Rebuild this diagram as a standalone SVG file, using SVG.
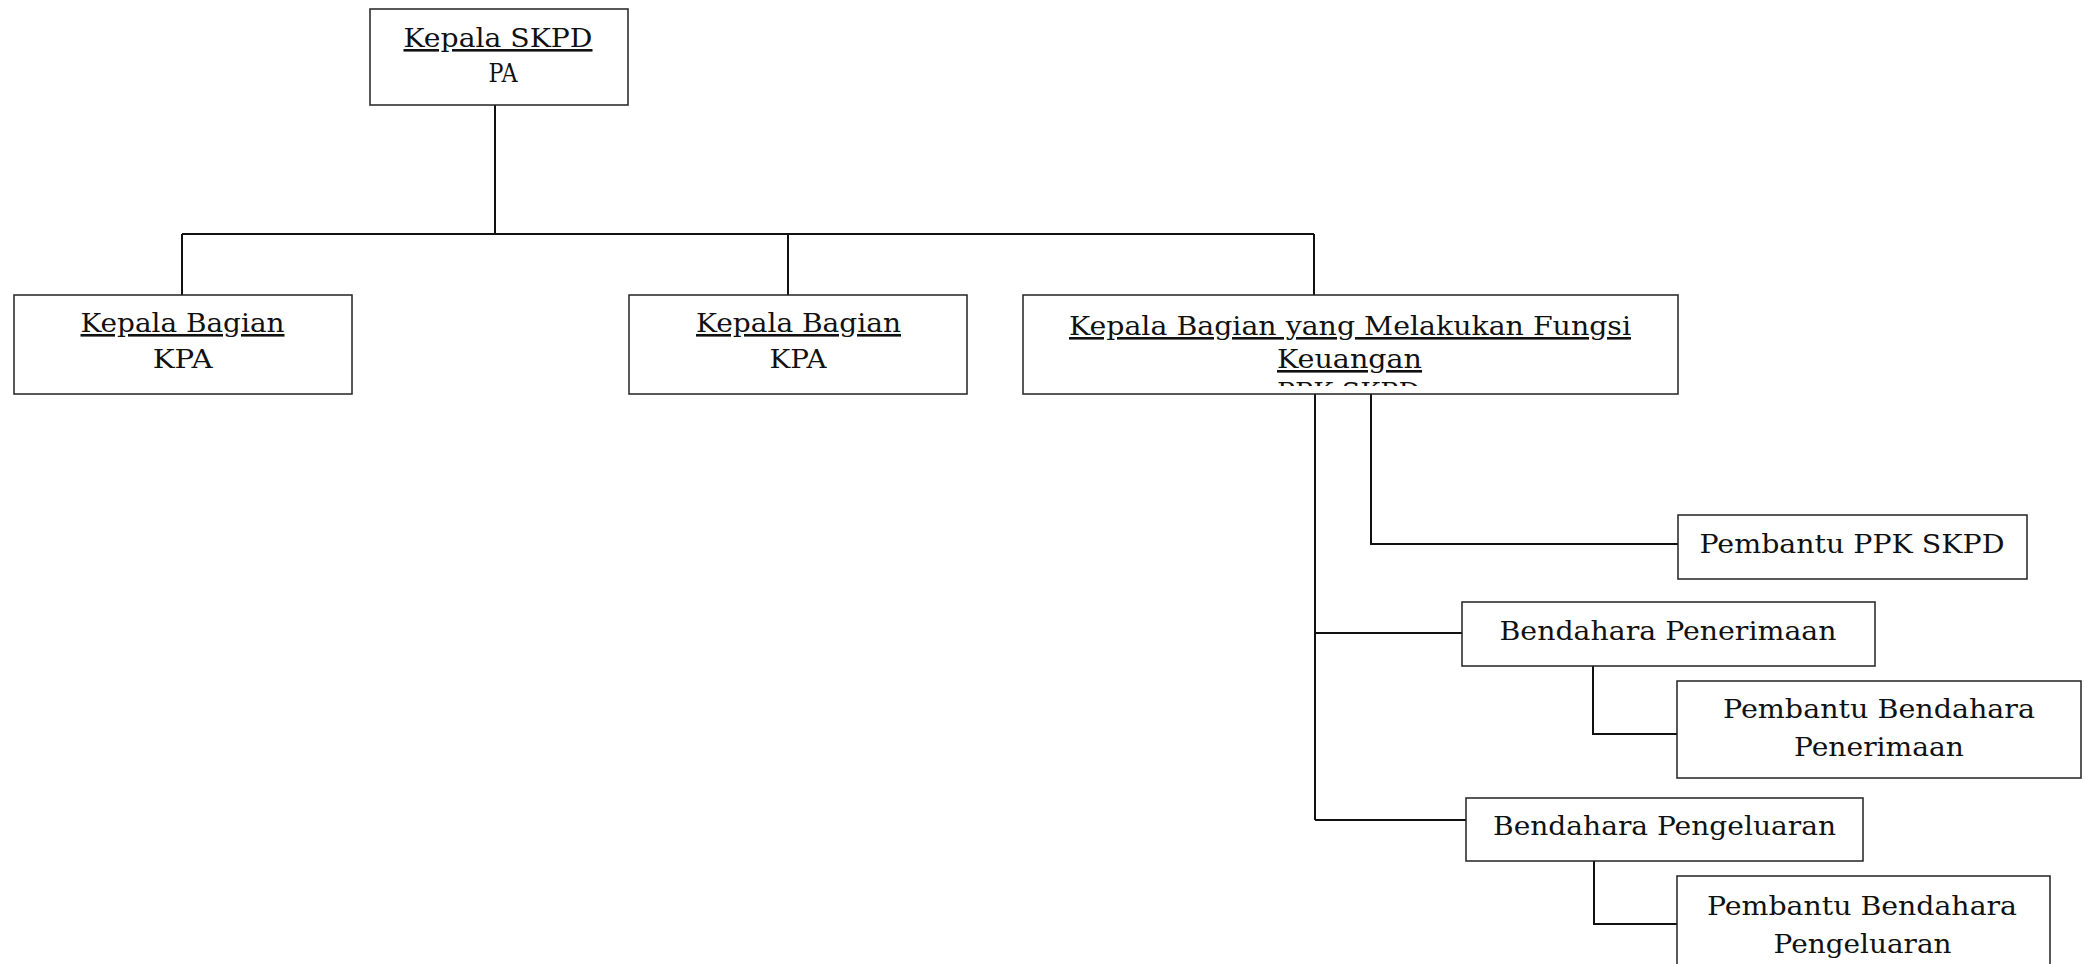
<svg xmlns="http://www.w3.org/2000/svg" width="2086" height="964" viewBox="0 0 2086 964">
<style>
.box{fill:#fff;stroke:#222;stroke-width:1.5}
.t{font-family:"DejaVu Serif","Liberation Serif",serif;font-size:26px;fill:#111;text-anchor:middle}
.u{text-decoration:underline}
.c{fill:none;stroke:#111;stroke-width:2}
</style>
<defs>
<clipPath id="clip3"><rect x="1023" y="295" width="655" height="91"/></clipPath>
</defs>
<rect width="2086" height="964" fill="#fff"/>
<g id="connectors">
<path class="c" d="M495 105V234M182 234H1314M182 234V295M788 234V295M1314 234V295"/>
<path class="c" d="M1315 394V820M1371 394V544H1678M1315 633H1462M1593 666V734H1677M1315 820H1466M1594 861V924H1677"/>
</g>
<g id="kepala-skpd">
<rect class="box" x="370" y="9" width="258" height="96"/>
<text class="t u" x="498" y="47" textLength="189" lengthAdjust="spacingAndGlyphs">Kepala SKPD</text>
<text class="t" x="503" y="82" textLength="29" lengthAdjust="spacingAndGlyphs">PA</text>
</g>
<g id="kpa-1">
<rect class="box" x="14" y="295" width="338" height="99"/>
<text class="t u" x="182.5" y="332" textLength="204" lengthAdjust="spacingAndGlyphs">Kepala Bagian</text>
<text class="t" x="182.7" y="368" textLength="60" lengthAdjust="spacingAndGlyphs">KPA</text>
</g>
<g id="kpa-2">
<rect class="box" x="629" y="295" width="338" height="99"/>
<text class="t u" x="798.5" y="332" textLength="205" lengthAdjust="spacingAndGlyphs">Kepala Bagian</text>
<text class="t" x="798" y="368" textLength="57" lengthAdjust="spacingAndGlyphs">KPA</text>
</g>
<g id="ppk-skpd">
<rect class="box" x="1023" y="295" width="655" height="99"/>
<text class="t u" x="1350" y="335" textLength="562" lengthAdjust="spacingAndGlyphs">Kepala Bagian yang Melakukan Fungsi</text>
<text class="t u" x="1349.5" y="368" textLength="145" lengthAdjust="spacingAndGlyphs">Keuangan</text>
<text class="t u" x="1348.5" y="401" textLength="143" lengthAdjust="spacingAndGlyphs" clip-path="url(#clip3)">PPK SKPD</text>
</g>
<g id="pembantu-ppk">
<rect class="box" x="1678" y="515" width="349" height="64"/>
<text class="t" x="1852" y="553" textLength="305" lengthAdjust="spacingAndGlyphs">Pembantu PPK SKPD</text>
</g>
<g id="bendahara-penerimaan">
<rect class="box" x="1462" y="602" width="413" height="64"/>
<text class="t" x="1668" y="640" textLength="337" lengthAdjust="spacingAndGlyphs">Bendahara Penerimaan</text>
</g>
<g id="pembantu-bendahara-penerimaan">
<rect class="box" x="1677" y="681" width="404" height="97"/>
<text class="t" x="1879" y="718" textLength="312" lengthAdjust="spacingAndGlyphs">Pembantu Bendahara</text>
<text class="t" x="1879" y="756" textLength="170" lengthAdjust="spacingAndGlyphs">Penerimaan</text>
</g>
<g id="bendahara-pengeluaran">
<rect class="box" x="1466" y="798" width="397" height="63"/>
<text class="t" x="1664.5" y="835" textLength="343" lengthAdjust="spacingAndGlyphs">Bendahara Pengeluaran</text>
</g>
<g id="pembantu-bendahara-pengeluaran">
<rect class="box" x="1677" y="876" width="373" height="120"/>
<text class="t" x="1862" y="915" textLength="310" lengthAdjust="spacingAndGlyphs">Pembantu Bendahara</text>
<text class="t" x="1862.6" y="953" textLength="178" lengthAdjust="spacingAndGlyphs">Pengeluaran</text>
</g>
</svg>
